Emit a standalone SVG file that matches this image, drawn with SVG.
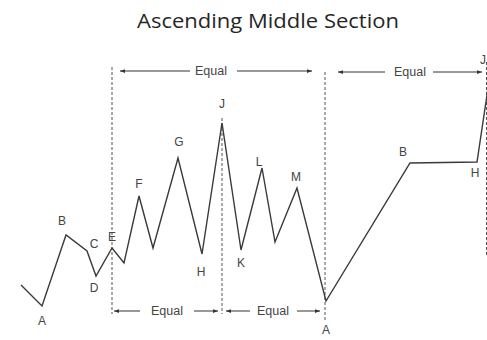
<svg xmlns="http://www.w3.org/2000/svg" width="487" height="340" viewBox="0 0 487 340">
<defs>
<marker id="ah" viewBox="0 0 8 6" refX="8" refY="3" markerWidth="5" markerHeight="4" orient="auto-start-reverse" markerUnits="userSpaceOnUse">
<path d="M0,0 L8,3 L0,6 Z" fill="#333"/>
</marker>
</defs>
<style>
.lbl{font-family:"Liberation Sans",Arial,sans-serif;font-size:12px;fill:#444;text-anchor:middle}
.eq{font-family:"Liberation Sans",Arial,sans-serif;font-size:12.5px;fill:#444;text-anchor:middle}
.dash{stroke:#555;stroke-width:1;stroke-dasharray:3,2;fill:none}
.arr{stroke:#333;stroke-width:1;fill:none}
.wave{stroke:#3a3a3a;stroke-width:1.4;fill:none;stroke-linejoin:miter}
</style>
<rect width="487" height="340" fill="#fff"/>
<text x="268" y="28" font-family="'Open Sans','Liberation Sans',sans-serif" font-size="20.5" font-weight="400" fill="#262626" text-anchor="middle" textLength="262" lengthAdjust="spacingAndGlyphs">Ascending Middle Section</text>
<g id="connectors">
<line class="dash" x1="112" y1="67" x2="112" y2="314"/>
<line class="dash" x1="222" y1="118" x2="222" y2="314"/>
<line class="dash" x1="325" y1="72" x2="325" y2="321"/>
<line class="dash" x1="486.5" y1="62" x2="486.5" y2="255"/>
<line class="arr" x1="190" y1="71" x2="120" y2="71" marker-end="url(#ah)"/>
<line class="arr" x1="237" y1="71" x2="312" y2="71" stroke-width="1.8" marker-end="url(#ah)"/>
<line class="arr" x1="385" y1="72" x2="338" y2="72" marker-end="url(#ah)"/>
<line class="arr" x1="433" y1="72" x2="482" y2="72" marker-end="url(#ah)"/>
<line class="arr" x1="140" y1="311" x2="114" y2="311" marker-end="url(#ah)"/>
<line class="arr" x1="194" y1="311" x2="218" y2="311" marker-end="url(#ah)"/>
<line class="arr" x1="250" y1="311" x2="226" y2="311" marker-end="url(#ah)"/>
<line class="arr" x1="297" y1="311" x2="320" y2="311" marker-end="url(#ah)"/>
</g>
<g id="wave">
<polyline class="wave" points="21,285 42,306 66,235 87,251 96,276 112,248 124,263 139,196 153,248 178,158 202,254 222,123 241,250 262,168 275,242 297,188 326,301 410,163 477,162 490,75"/>
</g>
<g id="labels">
<text class="eq" x="211" y="75">Equal</text>
<text class="eq" x="410" y="76">Equal</text>
<text class="eq" x="167" y="315">Equal</text>
<text class="eq" x="273" y="315">Equal</text>
<g id="nA"><text class="lbl" x="42" y="325">A</text></g>
<g id="nB"><text class="lbl" x="62" y="225">B</text></g>
<g id="nC"><text class="lbl" x="94" y="248">C</text></g>
<g id="nD"><text class="lbl" x="94" y="292">D</text></g>
<g id="nE"><text class="lbl" x="112" y="241">E</text></g>
<g id="nF"><text class="lbl" x="139" y="188">F</text></g>
<g id="nG"><text class="lbl" x="179" y="146">G</text></g>
<g id="nH"><text class="lbl" x="201" y="276">H</text></g>
<g id="nJ"><text class="lbl" x="222" y="108">J</text></g>
<g id="nK"><text class="lbl" x="241" y="267">K</text></g>
<g id="nL"><text class="lbl" x="259" y="166">L</text></g>
<g id="nM"><text class="lbl" x="296" y="181">M</text></g>
<g id="nA2"><text class="lbl" x="326" y="334">A</text></g>
<g id="nB2"><text class="lbl" x="403" y="156">B</text></g>
<g id="nH2"><text class="lbl" x="475" y="177">H</text></g>
<g id="nJ2"><text class="lbl" x="483" y="64">J</text></g>
</g>
</svg>
